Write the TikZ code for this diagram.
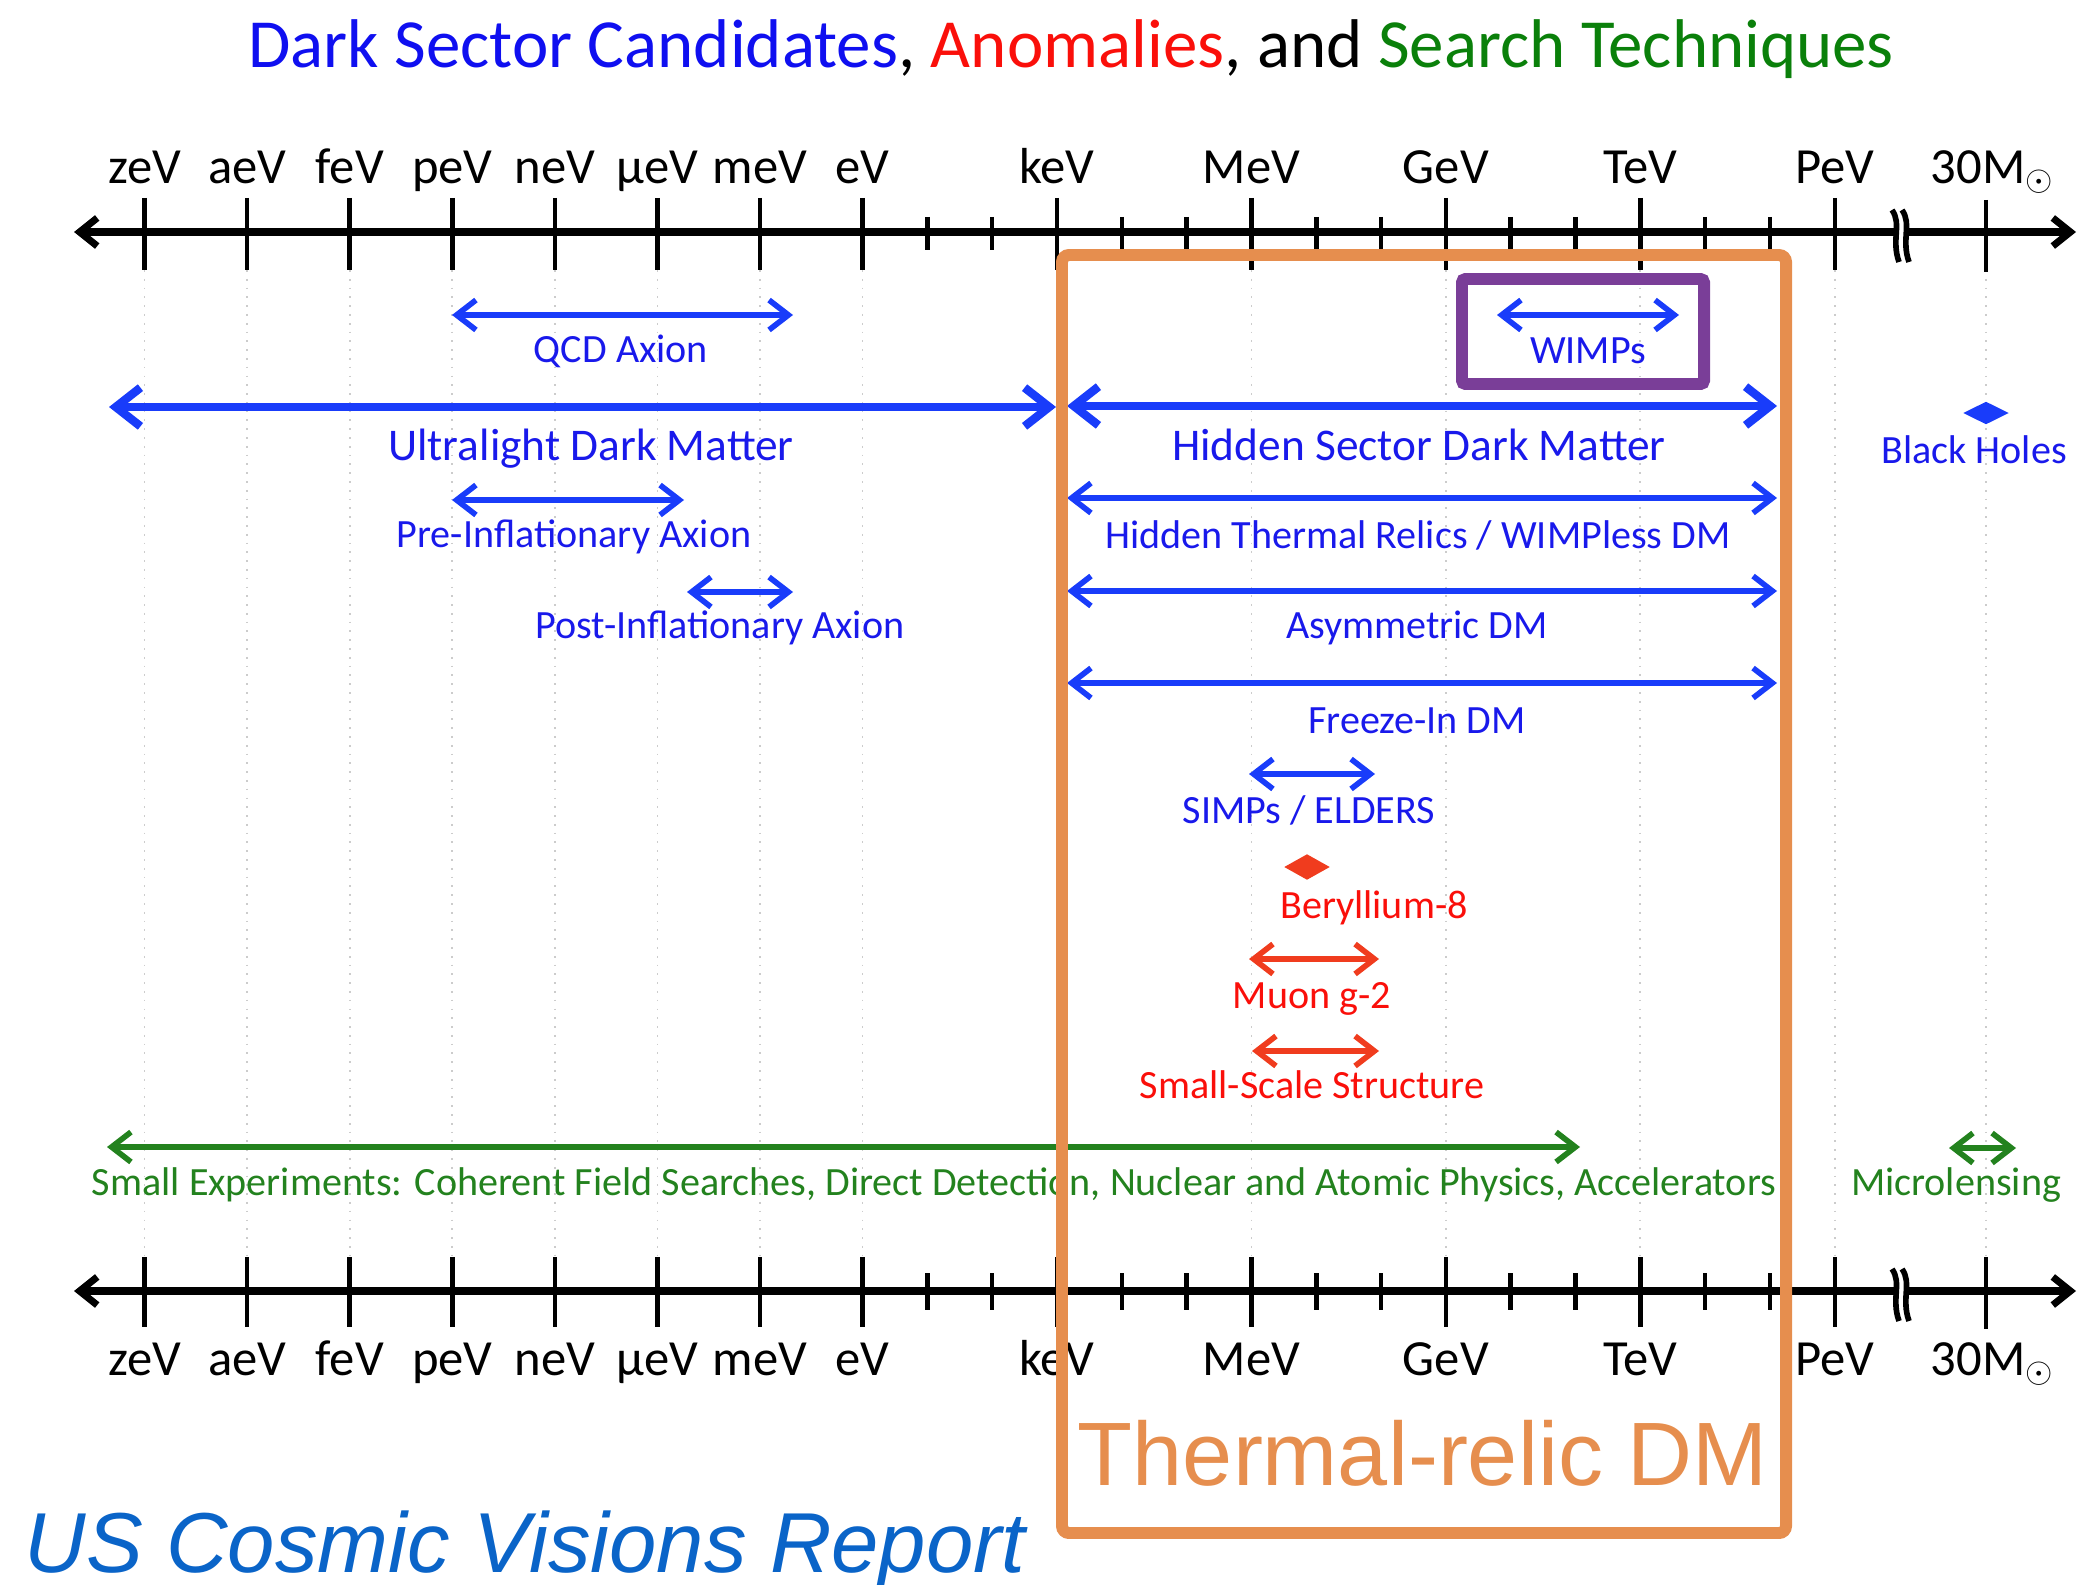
\documentclass[tikz,border=0pt]{standalone}
\usepackage{fontspec}
\setmainfont{Carlito}
\newfontfamily\helv{Liberation Sans}
\usetikzlibrary{arrows.meta,shapes.geometric}

\definecolor{titleblue}{RGB}{15,15,240}
\definecolor{txtblue}{RGB}{25,25,235}
\definecolor{rangeblue}{RGB}{25,60,250}
\definecolor{anred}{RGB}{250,15,10}
\definecolor{rangered}{RGB}{240,60,30}
\definecolor{titlegreen}{RGB}{10,128,10}
\definecolor{stgreen}{RGB}{35,130,30}
\definecolor{relicorange}{RGB}{230,142,78}
\definecolor{wimppurple}{RGB}{122,62,152}
\definecolor{reportblue}{RGB}{10,100,200}

\begin{document}
\begin{tikzpicture}[x=0.01cm,y=-0.01cm,
  axisline/.style={line width=2pt,
    {Straight Barb[length=5pt,width=8pt]}-{Straight Barb[length=5pt,width=8pt]}},
  majortick/.style={line width=1.3pt},
  minortick/.style={line width=1.3pt},
  gridline/.style={gray!40, line width=0.5pt, dotted},
  ticklabel/.style={font=\fontsize{14.4}{16}\selectfont, anchor=base, inner sep=0pt},
  thinrange/.style={line width=1.6pt,
    {Straight Barb[length=5.5pt,width=8.5pt]}-{Straight Barb[length=5.5pt,width=8.5pt]}},
  thickrange/.style={line width=2.4pt,
    {Straight Barb[length=7pt,width=11pt]}-{Straight Barb[length=7pt,width=11pt]}},
  smalllabel/.style={font=\fontsize{11.4}{13}\selectfont, anchor=base, inner sep=0pt},
  biglabel/.style={font=\fontsize{12.9}{15}\selectfont, anchor=base, inner sep=0pt},
  marker/.style={diamond, aspect=2, inner sep=0pt, draw=none},
]
\useasboundingbox (0,0) rectangle (2100,1585);

% ---- title ----
\node[anchor=base, inner sep=0pt, font=\fontsize{19.6}{23}\selectfont] (title) at (1071,68)
  {\textcolor{titleblue}{Dark Sector Candidates}, \textcolor{anred}{Anomalies}, and \textcolor{titlegreen}{Search Techniques}};

% ---- dotted grid under every major tick ----
\foreach \x in {144.6,247.2,349.7,452.3,554.8,657.4,759.9,862.5,1057.0,1251.4,1445.9,1640.3,1834.8,1986}
  \draw[gridline] (\x,270) -- (\x,1257);

% ---- the two energy axes ----
\coordinate (topL) at (74,232);  \coordinate (topR) at (2076,232);
\coordinate (botL) at (74,1291); \coordinate (botR) at (2076,1291);
\draw[axisline] (topL) -- (topR);
\draw[axisline] (botL) -- (botR);

\foreach \x/\lab/\nm in {144.6/zeV/zev,247.2/aeV/aev,349.7/feV/fev,452.3/peV/pev,
    554.8/neV/nev,657.4/µeV/uev,759.9/meV/mev,862.5/eV/ev,1057.0/keV/kev,
    1251.4/MeV/MeV,1445.9/GeV/gev,1640.3/TeV/tev,1834.8/PeV/PeV}{
  \draw[majortick] (\x,198) -- (\x,270);
  \draw[majortick] (\x,1257) -- (\x,1327);
  \node[ticklabel] (top-\nm) at (\x,183) {\lab};
  \node[ticklabel] (bot-\nm) at (\x,1375) {\lab};
}
\foreach \j in {1,2,4,5,7,8,10,11,13,14}{
  \draw[minortick] ({862.5+64.82*\j},217) -- ++(0,33);
  \draw[minortick] ({862.5+64.82*\j},1273) -- ++(0,37);
}
% solar-mass tick beyond the break
\draw[majortick] (1986,200) -- (1986,272);
\draw[majortick] (1986,1257) -- (1986,1329);
\node[ticklabel] (top-sun) at (1978,183) {30M\rlap{$_{\odot}$}};
\node[ticklabel] (bot-sun) at (1978,1375) {30M\rlap{$_{\odot}$}};

% axis breaks
\foreach \yb in {232,1291}{
  \fill[white] (1895,{\yb-9}) rectangle (1907,{\yb+9});
  \draw[line width=1.6pt] (1892,{\yb-22}) .. controls (1902,{\yb-8}) and (1891,{\yb+8}) .. (1899,{\yb+30});
  \draw[line width=1.6pt] (1902,{\yb-22}) .. controls (1912,{\yb-8}) and (1901,{\yb+8}) .. (1909,{\yb+30});
}

% ---- dark sector candidates (blue) ----
\coordinate (qcdL) at (452,315);  \coordinate (qcdR) at (793,315);
\draw[thinrange, rangeblue] (qcdL) -- (qcdR);
\node[smalllabel, text=txtblue] (qcd) at (621,362) {QCD Axion};

\coordinate (uldmL) at (109,407); \coordinate (uldmR) at (1056,407);
\draw[thickrange, rangeblue] (uldmL) -- (uldmR);
\node[biglabel, text=txtblue] (uldm) at (591,460) {Ultralight Dark Matter};

\coordinate (preL) at (452,500); \coordinate (preR) at (684,500);
\draw[thinrange, rangeblue] (preL) -- (preR);
\node[smalllabel, text=txtblue] (pre) at (574,547) {Pre-Inflationary Axion};

\coordinate (postL) at (687,592); \coordinate (postR) at (793,592);
\draw[thinrange, rangeblue] (postL) -- (postR);
\node[smalllabel, text=txtblue] (post) at (720,638) {Post-Inflationary Axion};

\coordinate (wimpL) at (1497,315); \coordinate (wimpR) at (1679,315);
\draw[thinrange, rangeblue] (wimpL) -- (wimpR);
\node[smalllabel, text=txtblue] (wimp) at (1588,363) {WIMPs};

\coordinate (hsdmL) at (1067,406); \coordinate (hsdmR) at (1777,406);
\draw[thickrange, rangeblue] (hsdmL) -- (hsdmR);
\node[biglabel, text=txtblue] (hsdm) at (1419,460) {Hidden Sector Dark Matter};

\node[marker, fill=rangeblue, minimum width=0.46cm, minimum height=0.23cm] (bhmark) at (1986,413) {};
\node[smalllabel, text=txtblue] (bh) at (1974,463) {Black Holes};

\coordinate (htrL) at (1067,498); \coordinate (htrR) at (1777,498);
\draw[thinrange, rangeblue] (htrL) -- (htrR);
\node[smalllabel, text=txtblue] (htr) at (1418,548) {Hidden Thermal Relics / WIMPless DM};

\coordinate (asymL) at (1067,591); \coordinate (asymR) at (1777,591);
\draw[thinrange, rangeblue] (asymL) -- (asymR);
\node[smalllabel, text=txtblue] (asym) at (1417,638) {Asymmetric DM};

\coordinate (fiL) at (1067,683); \coordinate (fiR) at (1777,683);
\draw[thinrange, rangeblue] (fiL) -- (fiR);
\node[smalllabel, text=txtblue] (fi) at (1417,733) {Freeze-In DM};

\coordinate (simpL) at (1249,774); \coordinate (simpR) at (1375,774);
\draw[thinrange, rangeblue] (simpL) -- (simpR);
\node[smalllabel, text=txtblue] (simp) at (1309,823) {SIMPs / ELDERS};

% ---- anomalies (red) ----
\node[marker, fill=rangered, minimum width=0.46cm, minimum height=0.26cm] (bemark) at (1307,867) {};
\node[smalllabel, text=anred] (be) at (1374,918) {Beryllium-8};

\coordinate (muL) at (1249,959); \coordinate (muR) at (1379,959);
\draw[thinrange, rangered] (muL) -- (muR);
\node[smalllabel, text=anred] (mu) at (1312,1008) {Muon g-2};

\coordinate (sssL) at (1252,1051); \coordinate (sssR) at (1379,1051);
\draw[thinrange, rangered] (sssL) -- (sssR);
\node[smalllabel, text=anred] (sss) at (1312,1098) {Small-Scale Structure};

% ---- search techniques (green) ----
\coordinate (seL) at (107,1147); \coordinate (seR) at (1580,1147);
\draw[thinrange, stgreen] (seL) -- (seR);
\node[smalllabel, text=stgreen] (se) at (934,1195)
  {Small Experiments: Coherent Field Searches, Direct Detection, Nuclear and Atomic Physics, Accelerators};

\coordinate (mlL) at (1949,1148); \coordinate (mlR) at (2016,1148);
\draw[thinrange, stgreen] (mlL) -- (mlR);
\node[smalllabel, text=stgreen] (ml) at (1956,1195) {Microlensing};

% ---- highlight boxes ----
\draw[wimppurple, line width=3.4pt, rounded corners=1pt] (1462,279) rectangle (1704,384);
\draw[relicorange, line width=3.4pt, rounded corners=2pt] (1062,255) rectangle (1786,1533);
\node[anchor=base, inner sep=0pt, text=relicorange, font=\helv\fontsize{25.6}{30}\selectfont] (relic) at (1423,1485) {Thermal-relic DM};

\node[anchor=base west, inner sep=0pt, text=reportblue, font=\helv\itshape\fontsize{24.2}{28}\selectfont] (report) at (24,1572) {US Cosmic Visions Report};
\end{tikzpicture}
\end{document}
